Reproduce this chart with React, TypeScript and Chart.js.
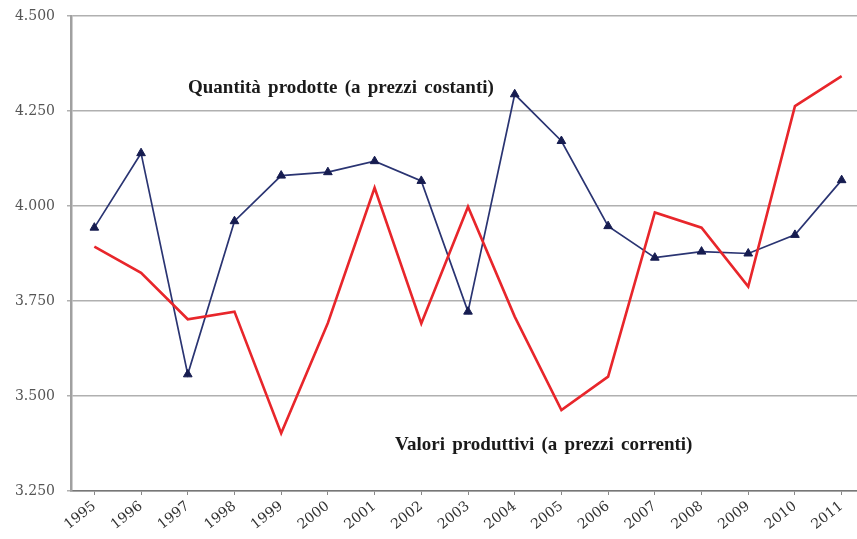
import React, { useEffect, useRef } from "react";
import { Chart, registerables } from "chart.js";

Chart.register(...registerables);

const years = ["1995","1996","1997","1998","1999","2000","2001","2002","2003","2004","2005","2006","2007","2008","2009","2010","2011"];
const quantita = [3.943,4.139,3.557,3.960,4.080,4.089,4.118,4.066,3.722,4.294,4.171,3.947,3.864,3.880,3.875,3.924,4.068];
const valori = [3.893,3.824,3.702,3.722,3.402,3.692,4.048,3.691,3.998,3.709,3.463,3.551,3.983,3.943,3.788,4.263,4.342];
const yTicks = [3.25, 3.5, 3.75, 4.0, 4.25, 4.5];
const labelQuantita = "Quantità prodotte (a prezzi costanti)";
const labelValori = "Valori produttivi (a prezzi correnti)";

const fmt = (v: number) => v.toFixed(3);

export default function App() {
  const ref = useRef<HTMLCanvasElement | null>(null);
  useEffect(() => {
    document.body.style.margin = "0";
    const textPlugin = {
      id: "seriesText",
      afterDatasetsDraw(chart: any) {
        const ctx = chart.ctx;
        const y = chart.scales.y;
        ctx.save();
        ctx.font = "bold 19px 'Liberation Serif', 'Times New Roman', serif";
        ctx.fillStyle = "#1a1a1a";
        ctx.textBaseline = "middle";
        ctx.textAlign = "left";
        (ctx as any).wordSpacing = "2.5px";
        ctx.fillText(labelQuantita, 188, y.getPixelForValue(4.31));
        ctx.fillText(labelValori, 395, y.getPixelForValue(3.37));
        ctx.restore();
      },
    };
    const chart = new Chart(ref.current!, {
      type: "line",
      data: {
        labels: years,
        datasets: [
          {
            label: labelValori,
            data: valori,
            borderColor: "#e8262b",
            borderWidth: 2.6,
            pointRadius: 0,
            tension: 0,
          },
          {
            label: labelQuantita,
            data: quantita,
            borderColor: "#2a3472",
            borderWidth: 1.7,
            pointStyle: "triangle",
            pointRadius: 5,
            pointBackgroundColor: "#161c50",
            pointBorderColor: "#161c50",
            pointBorderWidth: 1,
            tension: 0,
          },
        ],
      },
      options: {
        animation: false,
        responsive: false,
        maintainAspectRatio: false,
        layout: { padding: { top: 16, right: 0, left: 0, bottom: 0 } },
        plugins: { legend: { display: false }, tooltip: { enabled: false } },
        scales: {
          x: {
            type: "category",
            offset: true,
            grid: { drawOnChartArea: false, drawTicks: true, tickLength: 4, color: "#888", lineWidth: 1 },
            border: { display: true, color: "#777", width: 1.5 },
            ticks: {
              color: "#333",
              font: { family: "'DejaVu Serif', serif", size: 14 },
              maxRotation: 38,
              minRotation: 38,
              autoSkip: false,
              padding: 3,
            },
            afterFit(scale: any) { scale.height = 48; scale.paddingLeft = 0; scale.paddingRight = 0; },
          },
          y: {
            min: 3.25,
            max: 4.5,
            afterBuildTicks(scale: any) { scale.ticks = yTicks.map((v) => ({ value: v })); },
            grid: { color: "#b0b0b0", lineWidth: 1.5, tickLength: 4 },
            border: { display: true, color: "#a0a0a0", width: 2.5 },
            ticks: {
              color: "#555",
              font: { family: "'DejaVu Serif', serif", size: 14 },
              padding: 12,
              callback: (v: any) => fmt(Number(v)),
            },
            afterFit(scale: any) { scale.width = 71; scale.paddingTop = 0; scale.paddingBottom = 0; },
          },
        },
      },
      plugins: [textPlugin],
    });
    return () => chart.destroy();
  }, []);
  return (
    <div style={{ width: 857, height: 539, overflow: "hidden", background: "#fff" }}>
      <canvas ref={ref} width={871} height={539} style={{ display: "block" }} />
    </div>
  );
}
